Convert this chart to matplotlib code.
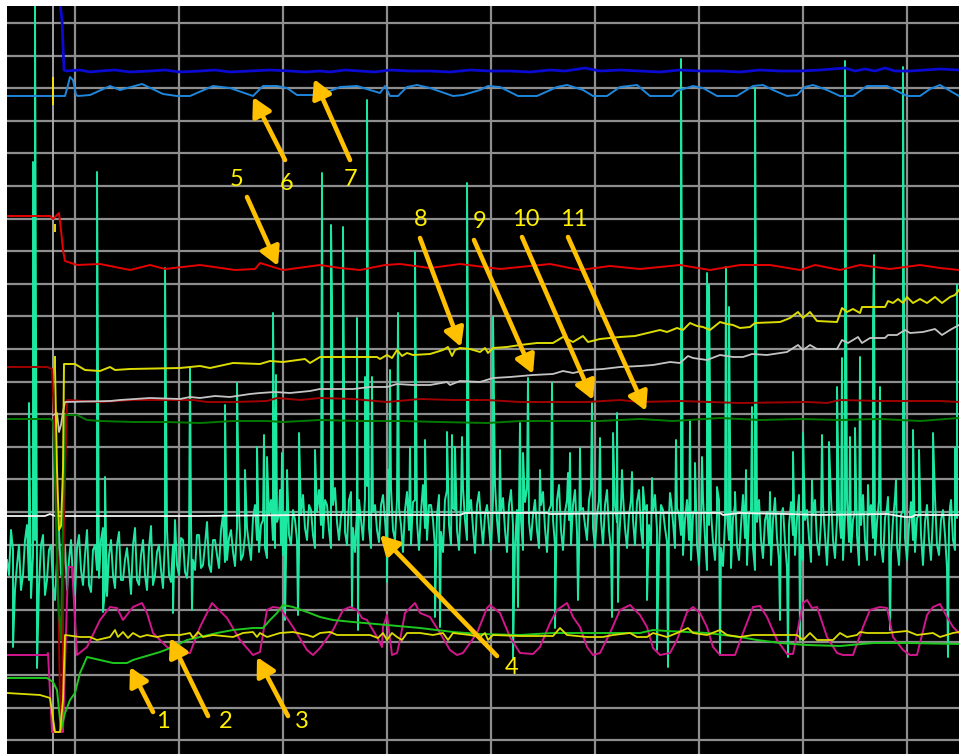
import numpy as np
import matplotlib.pyplot as plt

# screen readings, x and y in screen divisions of the scope (pixels of the capture)
blue_dark = [(60, 3), (62, 20), (64, 70), (66, 71), (80, 70), (90, 72), (100, 71), (115, 70), (130, 72), (150, 71),
             (165, 70), (180, 72), (200, 71), (215, 70), (230, 72), (250, 71), (270, 70), (290, 71), (305, 72), (320, 71),
             (330, 72), (345, 70), (360, 71), (375, 72), (390, 70), (410, 71), (430, 71), (450, 72), (470, 70), (490, 71),
             (510, 71), (530, 72), (550, 70), (565, 71), (585, 68), (600, 71), (620, 70), (640, 71), (660, 72), (680, 70),
             (700, 71), (720, 71), (740, 72), (760, 70), (780, 71), (800, 71), (820, 70), (845, 68), (855, 71), (865, 69),
             (875, 71), (885, 68), (895, 71), (910, 71), (925, 70), (940, 69), (959, 70)]

blue_light = [(7, 96), (65, 96), (68, 85), (70, 77), (73, 80), (76, 95), (78, 96), (90, 95), (110, 86), (120, 90),
              (142, 84), (163, 94), (177, 96), (190, 96), (213, 86), (230, 88), (253, 96), (263, 86), (277, 86), (287, 88),
              (297, 95), (320, 95), (340, 87), (357, 86), (370, 90), (380, 93), (385, 86), (390, 96), (398, 96), (407, 87),
              (417, 85), (430, 88), (453, 96), (463, 95), (480, 90), (488, 86), (500, 87), (518, 96), (537, 96), (557, 87),
              (567, 85), (583, 90), (593, 96), (607, 96), (620, 87), (637, 85), (650, 96), (672, 96), (677, 91), (693, 86),
              (703, 88), (717, 96), (737, 96), (753, 86), (763, 85), (773, 90), (787, 96), (797, 95), (805, 87), (813, 85),
              (827, 90), (840, 96), (853, 96), (867, 86), (887, 86), (897, 91), (907, 96), (920, 96), (930, 89), (940, 85),
              (959, 96)]

red = [(7, 216), (50, 216), (53, 219), (57, 215), (59, 213), (61, 230), (63, 250), (65, 261), (77, 265), (100, 264),
       (115, 267), (130, 270), (150, 265), (165, 269), (200, 265), (235, 270), (255, 269), (260, 263), (283, 270), (320, 265),
       (340, 268), (360, 270), (385, 265), (400, 264), (430, 268), (460, 264), (500, 269), (550, 264), (580, 270), (610, 266),
       (640, 269), (680, 265), (710, 270), (740, 265), (770, 265), (800, 270), (815, 265), (840, 270), (860, 265), (890, 269),
       (920, 265), (940, 268), (959, 270)]

yellow_top = [(55, 357), (55, 368), (57, 470), (59, 530), (61, 526), (63, 470), (64, 364), (75, 364), (85, 370), (100, 371),
              (110, 367), (115, 370), (130, 369), (180, 368), (200, 366), (210, 368), (233, 363), (260, 364), (270, 361), (283, 362),
              (305, 359), (310, 363), (320, 357), (377, 357), (380, 359), (387, 355), (392, 358), (397, 350), (402, 356), (407, 353),
              (413, 355), (430, 354), (443, 350), (448, 347), (452, 356), (455, 350), (460, 348), (470, 349), (480, 352), (485, 348),
              (488, 353), (493, 348), (507, 347), (520, 345), (537, 343), (553, 343), (563, 337), (573, 342), (583, 336), (588, 342),
              (600, 339), (620, 337), (635, 336), (660, 330), (667, 332), (677, 328), (683, 330), (690, 323), (697, 326), (703, 327),
              (710, 330), (720, 322), (727, 324), (733, 325), (740, 328), (750, 327), (755, 323), (780, 322), (790, 318), (798, 312),
              (803, 318), (810, 312), (817, 321), (837, 322), (842, 308), (847, 312), (853, 309), (860, 313), (862, 307), (873, 307),
              (885, 307), (888, 301), (893, 303), (898, 299), (903, 303), (907, 297), (913, 303), (920, 299), (927, 303), (935, 297),
              (942, 303), (950, 297), (955, 295), (959, 290)]

grey = [(53, 415), (57, 413), (59, 432), (61, 425), (63, 412), (65, 402), (110, 401), (120, 400), (150, 398), (180, 399),
        (190, 397), (200, 398), (215, 396), (230, 397), (250, 394), (260, 393), (275, 392), (290, 393), (310, 391), (320, 389),
        (353, 389), (370, 387), (387, 387), (397, 384), (413, 385), (430, 385), (447, 382), (450, 385), (460, 381), (480, 382),
        (493, 378), (510, 377), (533, 375), (553, 374), (563, 371), (573, 373), (587, 370), (603, 369), (620, 367), (640, 366),
        (653, 365), (670, 362), (680, 363), (688, 356), (693, 358), (707, 360), (720, 355), (733, 357), (743, 357), (752, 354),
        (767, 355), (787, 352), (798, 345), (803, 350), (810, 345), (817, 349), (837, 349), (842, 340), (848, 343), (858, 337),
        (862, 343), (870, 338), (885, 338), (888, 335), (897, 335), (905, 330), (910, 333), (923, 332), (935, 329), (942, 335),
        (950, 330), (959, 325)]

maroon = [(7, 367), (47, 367), (52, 369), (54, 420), (57, 520), (60, 700), (62, 730), (64, 520), (67, 400), (100, 402),
          (133, 400), (167, 400), (193, 400), (207, 402), (233, 402), (267, 401), (277, 398), (300, 400), (320, 398), (353, 399),
          (387, 402), (420, 399), (453, 400), (487, 400), (520, 402), (553, 402), (587, 402), (620, 400), (640, 402), (680, 401),
          (740, 403), (807, 402), (827, 403), (840, 400), (880, 401), (940, 401), (959, 402)]

green_dark = [(7, 419), (50, 419), (53, 421), (55, 480), (58, 600), (61, 640), (63, 520), (65, 415), (77, 415), (87, 420),
              (100, 421), (133, 422), (167, 422), (200, 423), (233, 421), (267, 421), (283, 422), (320, 420), (360, 421), (400, 421),
              (440, 422), (487, 423), (520, 421), (560, 421), (600, 421), (640, 419), (673, 421), (720, 418), (760, 420), (800, 419),
              (840, 420), (880, 419), (920, 421), (959, 418)]

white = [(7, 516), (45, 516), (50, 514), (55, 516), (100, 516), (200, 516), (300, 515), (400, 515), (460, 515), (465, 513),
         (547, 513), (550, 514), (640, 513), (720, 513), (723, 515), (740, 513), (787, 514), (820, 515), (887, 514), (905, 517),
         (912, 517), (915, 515), (959, 515)]

green = [(7, 678), (47, 678), (53, 682), (57, 690), (61, 730), (65, 713), (70, 700), (75, 693), (80, 673), (87, 657),
         (100, 660), (113, 663), (127, 663), (133, 660), (143, 657), (160, 652), (173, 647), (187, 640), (200, 637), (217, 633),
         (233, 630), (253, 628), (263, 628), (270, 620), (277, 613), (283, 605), (293, 607), (307, 612), (320, 617), (333, 620),
         (353, 622), (387, 625), (420, 628), (453, 632), (480, 634), (520, 635), (553, 633), (587, 633), (640, 633), (653, 630),
         (667, 631), (707, 633), (740, 637), (757, 640), (780, 643), (807, 645), (840, 646), (873, 643), (907, 643), (959, 644)]

yellow_low = [(7, 693), (40, 695), (50, 698), (55, 732), (60, 732), (63, 700), (65, 635), (80, 637), (90, 637), (97, 640),
              (110, 637), (115, 630), (118, 637), (123, 632), (128, 638), (133, 633), (140, 637), (147, 635), (157, 637), (167, 635),
              (180, 635), (190, 633), (193, 638), (198, 632), (203, 637), (213, 635), (233, 637), (243, 633), (253, 632), (257, 637),
              (260, 633), (267, 637), (280, 633), (293, 632), (307, 635), (313, 637), (320, 633), (330, 632), (337, 635), (370, 635),
              (378, 638), (383, 633), (387, 640), (392, 633), (397, 637), (402, 640), (407, 633), (420, 633), (433, 635), (443, 633),
              (448, 640), (453, 633), (470, 635), (480, 637), (485, 633), (488, 640), (493, 635), (520, 636), (553, 636), (560, 628),
              (567, 635), (587, 637), (603, 637), (613, 635), (630, 633), (637, 637), (647, 637), (653, 633), (667, 637), (677, 633),
              (688, 628), (693, 633), (707, 635), (720, 630), (727, 635), (740, 637), (753, 635), (780, 635), (797, 635), (803, 640),
              (810, 633), (817, 640), (833, 640), (840, 633), (847, 637), (857, 635), (860, 632), (867, 633), (887, 633), (907, 631),
              (917, 635), (933, 633), (940, 637), (953, 633), (959, 632)]

magenta = [(7, 655), (47, 655), (48, 653), (52, 732), (63, 732), (68, 567), (72, 567), (77, 655), (87, 647), (100, 620),
           (110, 607), (117, 608), (123, 620), (133, 607), (142, 603), (147, 613), (153, 633), (167, 647), (180, 653), (190, 653),
           (200, 627), (212, 603), (227, 618), (240, 640), (253, 655), (260, 652), (267, 610), (273, 607), (280, 608), (293, 627),
           (307, 650), (313, 655), (320, 648), (333, 630), (343, 610), (350, 607), (357, 610), (362, 618), (367, 620), (377, 637),
           (382, 647), (383, 627), (387, 615), (392, 655), (397, 653), (400, 640), (405, 613), (410, 608), (415, 603), (420, 613),
           (430, 617), (440, 633), (450, 650), (457, 655), (463, 653), (477, 633), (487, 608), (490, 605), (500, 613), (510, 637),
           (520, 653), (533, 654), (540, 647), (550, 623), (557, 610), (567, 603), (573, 617), (580, 627), (587, 647), (593, 655),
           (600, 653), (610, 633), (620, 610), (630, 605), (640, 615), (647, 627), (653, 648), (660, 655), (670, 653), (677, 640),
           (687, 612), (693, 607), (700, 613), (707, 627), (713, 647), (720, 655), (735, 655), (743, 633), (753, 607), (760, 606),
           (767, 617), (777, 640), (787, 654), (793, 654), (803, 603), (807, 600), (812, 608), (817, 607), (827, 637), (837, 653),
           (843, 655), (853, 655), (863, 627), (870, 610), (880, 607), (887, 608), (893, 637), (903, 650), (910, 655), (917, 655),
           (927, 615), (933, 607), (940, 604), (947, 617), (953, 627), (959, 633)]

# noisy channel: readings at x = 7, 11, 15, ... (a) and x = 9, 13, 17, ... (b), plus the spikes
teal_a = [560, 530, 590, 545, 575, 525, 598, 540, 585, 535,
          580, 545, 600, 530, 570, 590, 540, 595, 535, 585,
          530, 592, 545, 578, 528, 596, 540, 588, 532, 580,
          548, 594, 528, 585, 540, 590, 526, 575, 545, 588,
          530, 582, 520, 575, 540, 578, 518, 570, 535, 565,
          522, 572, 540, 568, 515, 560, 530, 566, 512, 555,
          528, 560, 505, 552, 520, 558, 500, 548, 515, 555,
          498, 545, 520, 552, 495, 540, 510, 548, 490, 538,
          505, 548, 488, 540, 510, 545, 492, 552, 500, 540,
          486, 548, 505, 542, 495, 550, 488, 540, 508, 552,
          492, 545, 500, 550, 485, 540, 505, 548, 495, 552,
          490, 545, 510, 550, 488, 540, 500, 553, 492, 545,
          505, 550, 485, 542, 498, 552, 490, 545, 508, 550,
          488, 540, 500, 548, 492, 552, 505, 545, 485, 550,
          500, 545, 490, 552, 508, 540, 488, 548, 500, 545,
          490, 550, 505, 542, 495, 548, 500, 545, 490, 548,
          505, 545, 495, 550, 510, 542, 500, 548, 515, 555,
          500, 560, 510, 565, 498, 570, 512, 560, 500, 566,
          515, 568, 505, 560, 495, 565, 510, 570, 500, 558,
          512, 565, 498, 560, 508, 568, 502, 555, 495, 560,
          510, 562, 500, 555, 505, 565, 498, 558, 512, 560,
          500, 552, 510, 565, 495, 560, 505, 555, 500, 562,
          508, 555, 498, 565, 510, 560, 502, 552, 515, 565,
          505, 560, 498, 555, 510, 568, 500, 550]

teal_b = [575, 550, 565, 590, 540, 580, 555, 570, 545, 595,
          550, 585, 560, 575, 545, 560, 580, 548, 570, 555,
          585, 550, 570, 540, 590, 555, 575, 545, 580, 560,
          570, 545, 580, 555, 575, 548, 585, 552, 570, 540,
          575, 545, 565, 538, 572, 550, 560, 535, 568, 545,
          565, 540, 555, 530, 562, 538, 552, 528, 560, 535,
          545, 518, 540, 525, 548, 515, 540, 522, 545, 512,
          535, 510, 540, 515, 528, 505, 535, 512, 525, 500,
          530, 505, 522, 515, 532, 500, 528, 510, 520, 498,
          528, 512, 530, 505, 520, 515, 530, 500, 525, 510,
          530, 502, 522, 512, 528, 505, 520, 515, 532, 500,
          525, 508, 530, 502, 520, 512, 528, 505, 522, 515,
          528, 500, 520, 512, 530, 505, 525, 510, 520, 502,
          522, 515, 530, 505, 528, 510, 520, 500, 530, 512,
          520, 505, 532, 510, 525, 500, 528, 515, 520, 505,
          530, 510, 522, 505, 528, 515, 520, 502, 530, 510,
          525, 512, 530, 505, 528, 518, 522, 508, 535, 520,
          540, 515, 545, 520, 538, 525, 542, 515, 548, 522,
          540, 518, 545, 525, 538, 515, 548, 522, 540, 520,
          545, 520, 538, 515, 542, 525, 535, 518, 545, 520,
          538, 515, 542, 522, 535, 518, 540, 520, 538, 515,
          542, 520, 535, 525, 540, 515, 538, 522, 545, 518,
          535, 520, 545, 515, 538, 525, 540, 518, 535, 522,
          540, 515, 545, 520, 535, 525, 540, 518]

teal_spikes = [(13, 647), (29, 403), (33, 162), (35, 4), (36, 327), (37, 668), (97, 172), (103, 612), (105, 477), (165, 268),
               (173, 613), (190, 368), (192, 610), (225, 405), (237, 383), (245, 470), (257, 447), (264, 435), (267, 457), (273, 313),
               (276, 375), (280, 490), (282, 453), (285, 620), (287, 470), (298, 615), (299, 433), (315, 450), (322, 173), (331, 225),
               (332, 297), (343, 227), (352, 607), (357, 318), (358, 630), (365, 377), (367, 100), (372, 377), (387, 582), (388, 470),
               (390, 370), (398, 313), (410, 447), (415, 252), (425, 440), (435, 617), (440, 627), (447, 432), (452, 435), (455, 447),
               (462, 437), (467, 183), (493, 317), (500, 450), (513, 658), (518, 607), (520, 423), (523, 453), (528, 378), (540, 470),
               (552, 383), (555, 628), (568, 473), (570, 453), (578, 600), (580, 448), (592, 402), (600, 438), (612, 617), (613, 433),
               (617, 413), (618, 602), (622, 470), (632, 472), (643, 487), (647, 600), (652, 478), (657, 650), (668, 667), (670, 493),
               (676, 440), (681, 59), (690, 420), (695, 463), (702, 457), (707, 273), (709, 285), (717, 487), (720, 655), (726, 267),
               (729, 307), (735, 492), (746, 470), (752, 407), (755, 88), (770, 492), (780, 620), (788, 657), (793, 452), (800, 640),
               (803, 433), (812, 480), (822, 435), (829, 442), (837, 387), (842, 358), (845, 61), (850, 437), (855, 428), (860, 357),
               (868, 485), (873, 322), (874, 255), (880, 387), (888, 497), (890, 630), (896, 480), (903, 67), (913, 430), (919, 450),
               (933, 433), (948, 657), (950, 507), (955, 448), (957, 285)]

# callouts: label, label position, arrow tail, arrow head
callouts = [('1', (163, 722), (153, 712), (130, 667)),
            ('2', (226, 722), (208, 716), (170, 638)),
            ('3', (302, 722), (288, 716), (257, 657)),
            ('4', (512, 668), (497, 656), (380, 535)),
            ('5', (237, 180), (247, 197), (278, 266)),
            ('6', (287, 183), (285, 160), (253, 97)),
            ('7', (351, 180), (350, 160), (314, 79)),
            ('8', (421, 220), (420, 238), (461, 347)),
            ('9', (480, 221), (474, 240), (533, 374)),
            ('10', (526, 219), (522, 237), (593, 400)),
            ('11', (574, 219), (568, 237), (646, 411))]

cursor_x = 53
cursor_marks = [(53, 77, 105), (55, 224, 232)]


def xy(pts):
    return [p[0] for p in pts], [p[1] for p in pts]


fig = plt.figure(figsize=(9.59, 7.54), dpi=100, facecolor='white')
ax = fig.add_axes([7 / 959, 0, 952 / 959, 748 / 754])
ax.set_facecolor('black')
ax.set_xlim(7, 959)
ax.set_ylim(754, 6)
for s in ax.spines.values():
    s.set_visible(False)

# scope graticule
ax.set_xticks(np.arange(75, 959, 104))
ax.set_yticks(23 + 32.6 * np.arange(23))
ax.tick_params(length=0, labelbottom=False, labelleft=False)
ax.grid(True, color='#8e8e8e', lw=1.6)
ax.set_axisbelow(True)
ax.axvline(cursor_x, color='#b0b0b0', lw=1.3, zorder=1)

# noisy channel
sx, sy = xy(teal_spikes)
tx = np.concatenate([7 + 4 * np.arange(len(teal_a)), 9 + 4 * np.arange(len(teal_b)), sx])
ty = np.concatenate([teal_a, teal_b, sy])
order = np.argsort(tx, kind='stable')
ax.plot(tx[order], ty[order], color='#1de8a2', lw=1.4, zorder=2)

ax.plot(*xy(white), color='#f4f4f4', lw=1.3, zorder=3)
ax.plot(*xy(blue_dark), color='#0a0ad2', lw=2.0, zorder=3)
ax.plot(*xy(blue_light), color='#1e86dc', lw=1.4, zorder=3)
ax.plot(*xy(red), color='#e60000', lw=1.4, zorder=3)
ax.plot(*xy(maroon), color='#a00000', lw=1.4, zorder=3)
ax.plot(*xy(green_dark), color='#007a00', lw=1.4, zorder=3)
ax.plot(*xy(grey), color='#c4c4c4', lw=1.3, zorder=3)
ax.plot(*xy(yellow_top), color='#dcdc00', lw=1.4, zorder=3)
ax.plot(*xy(magenta), color='#d2168c', lw=1.4, zorder=4)
ax.plot(*xy(green), color='#1ec81e', lw=1.4, zorder=4)
ax.plot(*xy(yellow_low), color='#dcdc00', lw=1.3, zorder=4)
for x0, y0, y1 in cursor_marks:
    ax.vlines(x0, y0, y1, color='#ffe600', lw=1.3, zorder=4)

for label, txt, tail, head in callouts:
    ax.annotate('', xy=head, xytext=tail,
                arrowprops=dict(arrowstyle='-|>,head_length=0.55,head_width=0.3', mutation_scale=20,
                                color='#ffc000', lw=3.3, shrinkA=0, shrinkB=0), zorder=6)
    ax.text(txt[0], txt[1], label, color='#fff000', fontsize=17, family='Lato',
            ha='center', va='center', zorder=6)

fig.savefig('out.png', dpi=100, facecolor='white')
